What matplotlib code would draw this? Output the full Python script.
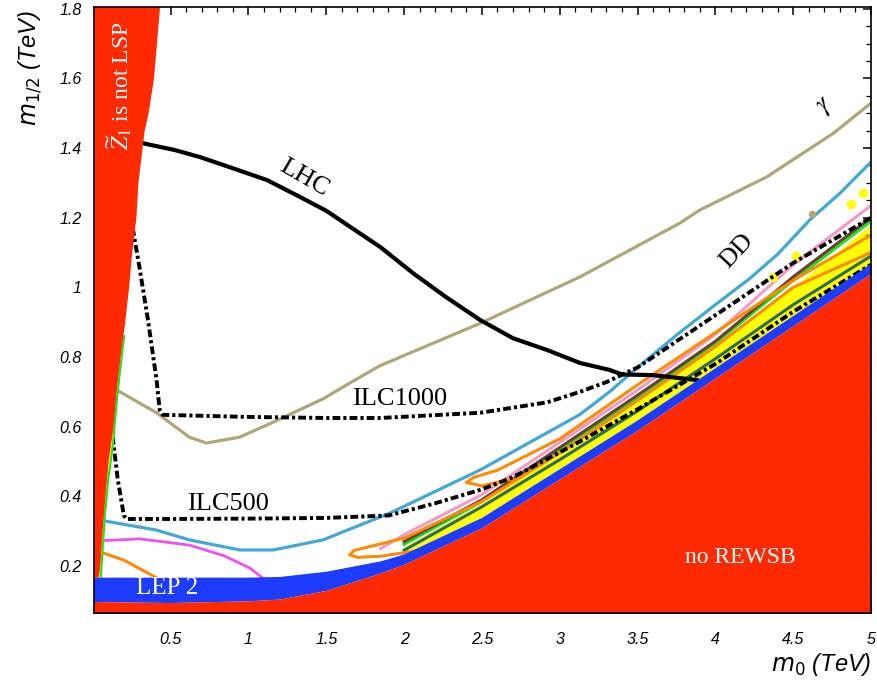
import numpy as np
import matplotlib.pyplot as plt
from matplotlib.ticker import MultipleLocator

# ---- datos (m0, m1/2 en TeV) ----
m0_ticks = [0.5, 1, 1.5, 2, 2.5, 3, 3.5, 4, 4.5, 5]
m0_labels = ['0.5', '1', '1.5', '2', '2.5', '3', '3.5', '4', '4.5', '5']
mh_ticks = [0.2, 0.4, 0.6, 0.8, 1, 1.2, 1.4, 1.6, 1.8]
mh_labels = ['0.2', '0.4', '0.6', '0.8', '1', '1.2', '1.4', '1.6', '1.8']

# borde de la región "Z1 no es LSP"
lsp_y = [0.168, 0.2, 0.3, 0.4, 0.5, 0.6, 0.7, 0.8, 0.9, 1.0, 1.1, 1.2, 1.3, 1.45, 1.5, 1.6, 1.81]
lsp_x = [0.035, 0.045, 0.06, 0.078, 0.098, 0.13, 0.15, 0.175, 0.205, 0.23, 0.25, 0.277, 0.29, 0.33, 0.355, 0.39, 0.43]
# franjas verde / amarilla junto al borde
edge_y = [0.17, 0.25, 0.35, 0.45, 0.55, 0.68, 0.77, 0.86]
edge_green_x = [0.052, 0.064, 0.079, 0.1, 0.13, 0.156, 0.178, 0.202]
edge_yellow_x = [0.046, 0.058, 0.072, 0.093, 0.122, 0.15, 0.172, 0.196]

# región sin REWSB y banda LEP2
rewsb_m0 = [0.0, 0.5, 1.0, 1.2, 1.5, 1.85, 2.0, 2.5, 3.0, 3.5, 4.0, 4.5, 5.0]
rewsb_top = [0.098, 0.095, 0.1, 0.105, 0.13, 0.18, 0.205, 0.31, 0.45, 0.59, 0.74, 0.89, 1.04]
lep_top = [0.168, 0.168, 0.168, 0.17, 0.185, 0.215, 0.235, 0.34, 0.48, 0.62, 0.77, 0.92, 1.07]

# líneas dentro de la banda
band_m0 = [2.0, 2.5, 3.0, 3.5, 4.0, 4.5, 5.0]
yellow_top = [0.255, 0.38, 0.53, 0.675, 0.835, 1.0, 1.18]
teal = [0.245, 0.37, 0.505, 0.645, 0.795, 0.95, 1.09]
green = [0.262, 0.385, 0.535, 0.68, 0.84, 1.02, 1.19]
brown = [0.27, 0.39, 0.54, 0.69, 0.845, 1.03, 1.2]
pink = [0.29, 0.405, 0.555, 0.705, 0.865, 1.065, 1.235]

# contornos
lhc_m0 = [0.32, 0.53, 0.69, 0.90, 1.12, 1.33, 1.5, 1.7, 1.85, 2.06, 2.27, 2.49, 2.70, 2.92, 3.13, 3.32, 3.4, 3.6, 3.88]
lhc = [1.414, 1.394, 1.374, 1.342, 1.308, 1.26, 1.22, 1.16, 1.115, 1.04, 0.972, 0.906, 0.854, 0.82, 0.783, 0.763, 0.75, 0.748, 0.734]

ilc1000_m0 = [0.257, 0.30, 0.355, 0.41, 0.43, 0.45, 1.0, 1.5, 1.85, 2.49, 2.92, 3.13, 3.30, 3.5, 4.0, 4.5, 5.0]
ilc1000 = [1.17, 1.058, 0.906, 0.734, 0.648, 0.634, 0.628, 0.625, 0.625, 0.64, 0.67, 0.70, 0.728, 0.77, 0.92, 1.07, 1.2]

ilc500_m0 = [0.115, 0.16, 0.2, 0.215, 0.5, 1.0, 1.5, 1.9, 2.2, 2.5, 2.7, 3.1, 3.5, 4.0, 4.5, 5.0]
ilc500 = [0.62, 0.45, 0.345, 0.335, 0.335, 0.336, 0.338, 0.345, 0.38, 0.42, 0.455, 0.55, 0.65, 0.78, 0.93, 1.065]

gamma_m0 = [0.155, 0.41, 0.62, 0.73, 0.945, 1.16, 1.48, 1.67, 1.845, 2.49, 3.13, 3.77, 3.90, 4.33, 4.76, 5.0]
gamma = [0.705, 0.64, 0.57, 0.553, 0.57, 0.613, 0.68, 0.73, 0.775, 0.897, 1.03, 1.184, 1.222, 1.317, 1.443, 1.529]

dd_m0 = [0.03, 0.41, 0.62, 0.945, 1.16, 1.48, 1.91, 2.49, 3.13, 3.32, 3.5, 3.77, 4.0, 4.22, 4.4, 4.61, 4.8, 5.0]
dd = [0.333, 0.303, 0.275, 0.246, 0.246, 0.275, 0.352, 0.476, 0.635, 0.70, 0.77, 0.87, 0.95, 1.025, 1.095, 1.195, 1.27, 1.36]

mag_m0 = [0.03, 0.30, 0.62, 0.84, 1.01, 1.09]
mag = [0.272, 0.278, 0.26, 0.23, 0.194, 0.166]

orl_m0 = [0.01, 0.2, 0.41]
orl = [0.246, 0.217, 0.166]

or1_m0 = [2.1, 1.85, 1.7, 1.65, 1.68, 1.8, 2.0, 2.5, 3.0, 3.5, 4.0, 4.5, 5.0]
or1 = [0.245, 0.228, 0.225, 0.232, 0.245, 0.258, 0.28, 0.385, 0.525, 0.675, 0.83, 1.0, 1.10]
or2_m0 = [2.7, 2.5, 2.4, 2.45, 2.6, 3.0, 3.5, 4.0, 4.5, 5.0]
or2 = [0.45, 0.43, 0.44, 0.455, 0.475, 0.565, 0.72, 0.87, 1.02, 1.15]

ydots_m0 = [4.37, 4.52, 4.87, 4.95]
ydots = [1.03, 1.09, 1.24, 1.27]

# colores
RED = '#ff2a00'
BLUE = '#1e3cff'
KHAKI = '#aea77b'
LBLUE = '#44a8d4'

fig = plt.figure(figsize=(8.78, 6.86), dpi=100)
ax = fig.add_axes([0.1074, 0.1064, 0.8846, 0.8834])
ax.set_xlim(0.01, 5.0)
ax.set_ylim(0.065, 1.805)

# regiones rellenas
ax.fill_between(rewsb_m0, rewsb_top, lep_top, color=BLUE, lw=0, zorder=2.9)
ax.fill_between(rewsb_m0, 0, rewsb_top, color=RED, lw=0, zorder=3)
ax.fill_betweenx(lsp_y, 0, lsp_x, color=RED, lw=0, zorder=3)
ax.fill_between(band_m0, np.interp(band_m0, rewsb_m0, lep_top), yellow_top,
                color='#ffff00', lw=0, zorder=1)
ax.plot(edge_yellow_x, edge_y, color='#ffff00', lw=2, zorder=2.8)
ax.plot(edge_green_x, edge_y, color='#22e022', lw=1.5, zorder=2.8)

# líneas de la banda
ax.plot(band_m0, green, color='#22e022', lw=2.2, zorder=1.5)
ax.plot(band_m0, teal, color='#2f6b5c', lw=2.2, zorder=1.6)
ax.plot(band_m0, brown, color='#6b4034', lw=2.2, zorder=1.6)
ax.plot([1.85] + band_m0, [0.25] + pink, color='#f49ac8', lw=2.2, zorder=1.4)
ax.plot(or1_m0, or1, color='#ff8c00', lw=2.2, zorder=1.7)
ax.plot(or2_m0, or2, color='#ff8c00', lw=2.2, zorder=1.7)
ax.plot(orl_m0, orl, color='#ff8c00', lw=2.2, zorder=1.7)
ax.plot(mag_m0, mag, color='#f050ee', lw=2, zorder=1.7)
ax.plot(dd_m0, dd, color=LBLUE, lw=2.3, zorder=1.8)
ax.plot(gamma_m0, gamma, color=KHAKI, lw=2.3, zorder=1.8)
ax.scatter(ydots_m0, ydots, s=45, color='#ffff00', lw=0, zorder=2)
ax.scatter([4.62], [1.21], s=30, color=KHAKI, lw=0, zorder=2)

ilc_ls = (0, (2, 0.8, 0.8, 0.8))
ax.plot(ilc500_m0, ilc500, color='black', lw=2.8, ls=ilc_ls, zorder=2)
ax.plot(ilc1000_m0, ilc1000, color='black', lw=2.8, ls=ilc_ls, zorder=2)
ax.plot(lhc_m0, lhc, color='black', lw=3, zorder=2.2)

# etiquetas
serif = 'Liberation Serif'
ax.text(1.36, 1.315, 'LHC', rotation=-30, fontsize=19, family=serif,
        ha='center', va='center', zorder=4)
ax.text(1.97, 0.68, 'ILC1000', fontsize=19, family=serif, ha='center', va='center', zorder=4)
ax.text(0.87, 0.378, 'ILC500', fontsize=19, family=serif, ha='center', va='center', zorder=4)
ax.text(4.14, 1.105, 'DD', rotation=47, fontsize=19, family=serif, ha='center', va='center', zorder=4)
ax.text(4.705, 1.523, r'$\gamma$', rotation=45, fontsize=19, ha='center', va='center',
        math_fontfamily='stix', zorder=4)
ax.text(0.48, 0.137, 'LEP 2', fontsize=18, family=serif, color='white',
        ha='center', va='center', zorder=4)
ax.text(4.16, 0.223, 'no REWSB', fontsize=17, family=serif, color='white',
        ha='center', va='center', zorder=4)
ax.text(0.168, 1.58, r'$\widetilde{Z}_1$ is not LSP', rotation=90, fontsize=17,
        family=serif, color='white', ha='center', va='center', math_fontfamily='stix', zorder=4)

# ejes
ax.set_xticks(m0_ticks)
ax.set_xticklabels(m0_labels)
ax.set_yticks(mh_ticks)
ax.set_yticklabels(mh_labels)
ax.xaxis.set_minor_locator(MultipleLocator(0.1))
ax.yaxis.set_minor_locator(MultipleLocator(0.05))
ax.tick_params(which='both', direction='in', top=True, right=True, color='black')
ax.tick_params(which='major', length=6, width=1.1)
ax.tick_params(which='minor', length=3.5, width=0.9)
ax.tick_params(axis='x', pad=14)
ax.tick_params(axis='y', pad=9)
for lab in ax.get_xticklabels() + ax.get_yticklabels():
    lab.set_fontstyle('italic')
    lab.set_family('Liberation Sans')
    lab.set_fontsize(11.5)
for sp in ax.spines.values():
    sp.set_linewidth(1.2)
    sp.set_zorder(5)

fig.text(0.992, 1 - 665 / 686, r'$m_0$ (TeV)', fontsize=17, style='italic',
         family='Liberation Sans', ha='right', va='center', math_fontfamily='custom')
fig.text(30 / 878, 1 - 68 / 686, r'$m_{1/2}$ (TeV)', fontsize=17, style='italic',
         family='Liberation Sans', rotation=90, ha='center', va='center', math_fontfamily='custom')

plt.savefig('out.png', dpi=100)
